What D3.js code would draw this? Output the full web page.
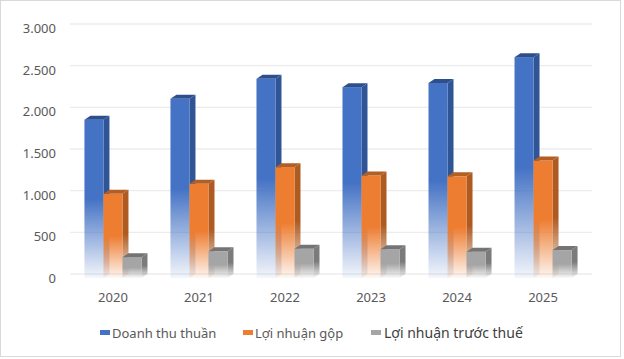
<!DOCTYPE html>
<html>
<head>
<meta charset="utf-8">
<script src="https://cdn.jsdelivr.net/npm/d3@7"></script>
<style>
  body { margin: 0; background: #fff; }
  svg { display: block; font-family: "Noto Sans", "Open Sans", sans-serif; }
</style>
</head>
<body>
<svg id="chart" width="624" height="359"></svg>
<script>
"use strict";

var years = ["2020", "2021", "2022", "2023", "2024", "2025"],
    seriesNames = ["Doanh thu thuần", "Lợi nhuận gộp", "Lợi nhuận trước thuế"],
    doanhThu = [1900, 2150, 2390, 2290, 2340, 2650],
    loiNhuanGop = [1010, 1130, 1330, 1230, 1220, 1410],
    loiNhuanTruocThue = [250, 320, 350, 345, 315, 335],
    yTicks = [0, 500, 1000, 1500, 2000, 2500, 3000];

var series = [doanhThu, loiNhuanGop, loiNhuanTruocThue],
    FRONT = ["#4472c4", "#ed7d31", "#a5a5a5"],
    SIDE = ["#2f5597", "#ae5a21", "#7b7b7b"],
    TOP = ["#2e4f8e", "#b35e22", "#747474"],
    DX = 6,
    DY = 4;

var svg = d3.select("#chart");

// outer frame
svg.append("rect")
    .attr("x", 0.5).attr("y", 0.5)
    .attr("width", 620).attr("height", 356)
    .attr("fill", "#fff")
    .attr("stroke", "#d9d9d9");

var x = d3.scaleBand().domain(years).range([70, 586]).paddingInner(0.337).paddingOuter(0.168),
    xi = d3.scaleBand().domain(d3.range(series.length)).range([0, x.bandwidth()]),
    y = d3.scaleLinear().domain([0, 3000]).range([278, 28]);

// gradients: solid on top half, fading to white at the base
var defs = svg.append("defs");
function addGrad(id, color) {
    var g = defs.append("linearGradient").attr("id", id)
        .attr("x1", 0).attr("y1", 0).attr("x2", 0).attr("y2", 1);
    g.append("stop").attr("offset", 0).attr("stop-color", color);
    g.append("stop").attr("offset", 0.5).attr("stop-color", color);
    g.append("stop").attr("offset", 1).attr("stop-color", color).attr("stop-opacity", 0.06);
}
FRONT.forEach(function (c, i) { addGrad("front" + i, c); });
SIDE.forEach(function (c, i) { addGrad("side" + i, c); });

// back wall gridlines
svg.append("g").selectAll("line").data(yTicks).join("line")
    .attr("x1", 70).attr("x2", 592)
    .attr("y1", function (d) { return y(d) - DY; })
    .attr("y2", function (d) { return y(d) - DY; })
    .attr("stroke", "#ececec")
    .attr("stroke-width", 1.3);

// y tick labels
svg.append("g").selectAll("text").data(yTicks).join("text")
    .attr("x", 56)
    .attr("y", function (d) { return y(d) + 1.5; })
    .attr("text-anchor", "end")
    .attr("dominant-baseline", "middle")
    .attr("font-size", 13)
    .attr("fill", "#595959")
    .text(function (d) { return d3.format(",")(d).replace(/,/g, "."); });

// x labels
svg.append("g").selectAll("text").data(years).join("text")
    .attr("x", function (d) { return x(d) + x.bandwidth() / 2; })
    .attr("y", 302)
    .attr("text-anchor", "middle")
    .attr("font-size", 13)
    .attr("fill", "#595959")
    .text(function (d) { return d; });

// 3D bars
var bars = svg.append("g");
years.forEach(function (yr, ci) {
    series.forEach(function (vals, si) {
        var x0 = x(yr) + xi(si),
            w = xi.bandwidth(),
            y0 = y(vals[ci]),
            yb = y(0),
            g = bars.append("g");
        g.append("polygon")
            .attr("points", [[x0 + w, y0], [x0 + w + DX, y0 - DY], [x0 + w + DX, yb - DY], [x0 + w, yb]].join(" "))
            .attr("fill", "url(#side" + si + ")");
        g.append("rect")
            .attr("x", x0).attr("y", y0)
            .attr("width", w).attr("height", yb - y0)
            .attr("fill", "url(#front" + si + ")");
        g.append("polygon")
            .attr("points", [[x0, y0], [x0 + DX, y0 - DY], [x0 + w + DX, y0 - DY], [x0 + w, y0]].join(" "))
            .attr("fill", TOP[si]);
    });
});

// legend
var legendX = [100, 243, 371],
    legendSize = [13, 13, 14],
    legendColor = ["#595959", "#595959", "#404040"];
var lg = svg.append("g").selectAll("g").data(seriesNames).join("g")
    .attr("transform", function (d, i) { return "translate(" + legendX[i] + ",330)"; });
lg.append("rect")
    .attr("width", 10).attr("height", 5)
    .attr("fill", function (d, i) { return FRONT[i]; });
lg.append("text")
    .attr("x", function (d, i) { return i === 2 ? 13 : 12; })
    .attr("y", 8)
    .attr("font-size", function (d, i) { return legendSize[i]; })
    .attr("fill", function (d, i) { return legendColor[i]; })
    .text(function (d) { return d; });
</script>
</body>
</html>
